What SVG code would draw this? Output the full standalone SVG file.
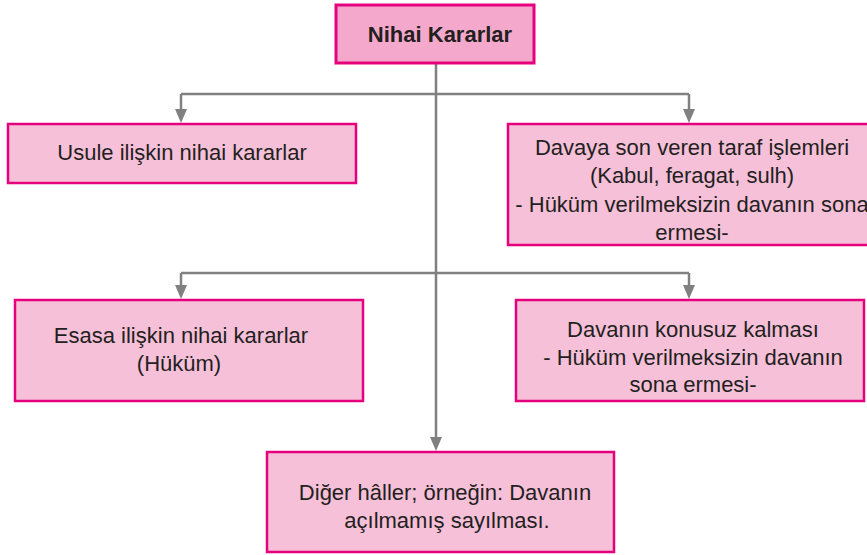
<svg xmlns="http://www.w3.org/2000/svg" width="867" height="555" viewBox="0 0 867 555">
<defs>
<style>
.box{fill:#f6c0d9;stroke:#e6007e;stroke-width:2.5}
.top{fill:#f4a9cc;stroke:#e6007e;stroke-width:3}
.t{font-family:"Liberation Sans",Arial,sans-serif;font-size:22px;fill:#231f20;text-anchor:middle}
.b{font-weight:bold}
.c{fill:none;stroke:#808080;stroke-width:2.5}
</style>
<marker id="ah" markerWidth="12" markerHeight="14" refX="6" refY="14" orient="0" markerUnits="userSpaceOnUse" viewBox="0 0 12 14">
<path d="M0,0 L12,0 L6,14 Z" fill="#808080"/>
</marker>
</defs>
<rect width="867" height="555" fill="#ffffff"/>
<g id="connectors">
<path class="c" d="M436,64 V438"/>
<path class="c" d="M181,94 H689"/>
<path class="c" d="M181,94 V110"/>
<path class="c" d="M689,94 V110"/>
<path class="c" d="M181,273 H689"/>
<path class="c" d="M181,273 V287"/>
<path class="c" d="M689,273 V287"/>
<path d="M175,109 L187,109 L181,123 Z" fill="#808080"/>
<path d="M683,109 L695,109 L689,123 Z" fill="#808080"/>
<path d="M175,285 L187,285 L181,299 Z" fill="#808080"/>
<path d="M683,285 L695,285 L689,299 Z" fill="#808080"/>
<path d="M430,437 L442,437 L436,451 Z" fill="#808080"/>
</g>
<g id="n-top">
<rect class="top" x="336" y="5" width="198" height="58"/>
<text class="t b" x="440" y="42">Nihai Kararlar</text>
</g>
<g id="n-usule">
<rect class="box" x="8" y="124" width="348" height="59"/>
<text class="t" x="182" y="160">Usule ilişkin nihai kararlar</text>
</g>
<g id="n-davaya">
<rect class="box" x="508" y="124" width="370" height="121"/>
<text class="t" x="692" y="155">Davaya son veren taraf işlemleri</text>
<text class="t" x="692" y="183">(Kabul, feragat, sulh)</text>
<text class="t" x="692" y="212">- Hüküm verilmeksizin davanın sona</text>
<text class="t" x="692" y="240">ermesi-</text>
</g>
<g id="n-esasa">
<rect class="box" x="15" y="300" width="348" height="101"/>
<text class="t" x="181" y="343">Esasa ilişkin nihai kararlar</text>
<text class="t" x="179" y="371">(Hüküm)</text>
</g>
<g id="n-konusuz">
<rect class="box" x="516" y="300" width="348" height="101"/>
<text class="t" x="693" y="337">Davanın konusuz kalması</text>
<text class="t" x="693" y="365">- Hüküm verilmeksizin davanın</text>
<text class="t" x="693" y="392">sona ermesi-</text>
</g>
<g id="n-diger">
<rect class="box" x="267" y="452" width="347" height="100"/>
<text class="t" x="445" y="500">Diğer hâller; örneğin: Davanın</text>
<text class="t" x="447" y="528">açılmamış sayılması.</text>
</g>
</svg>
